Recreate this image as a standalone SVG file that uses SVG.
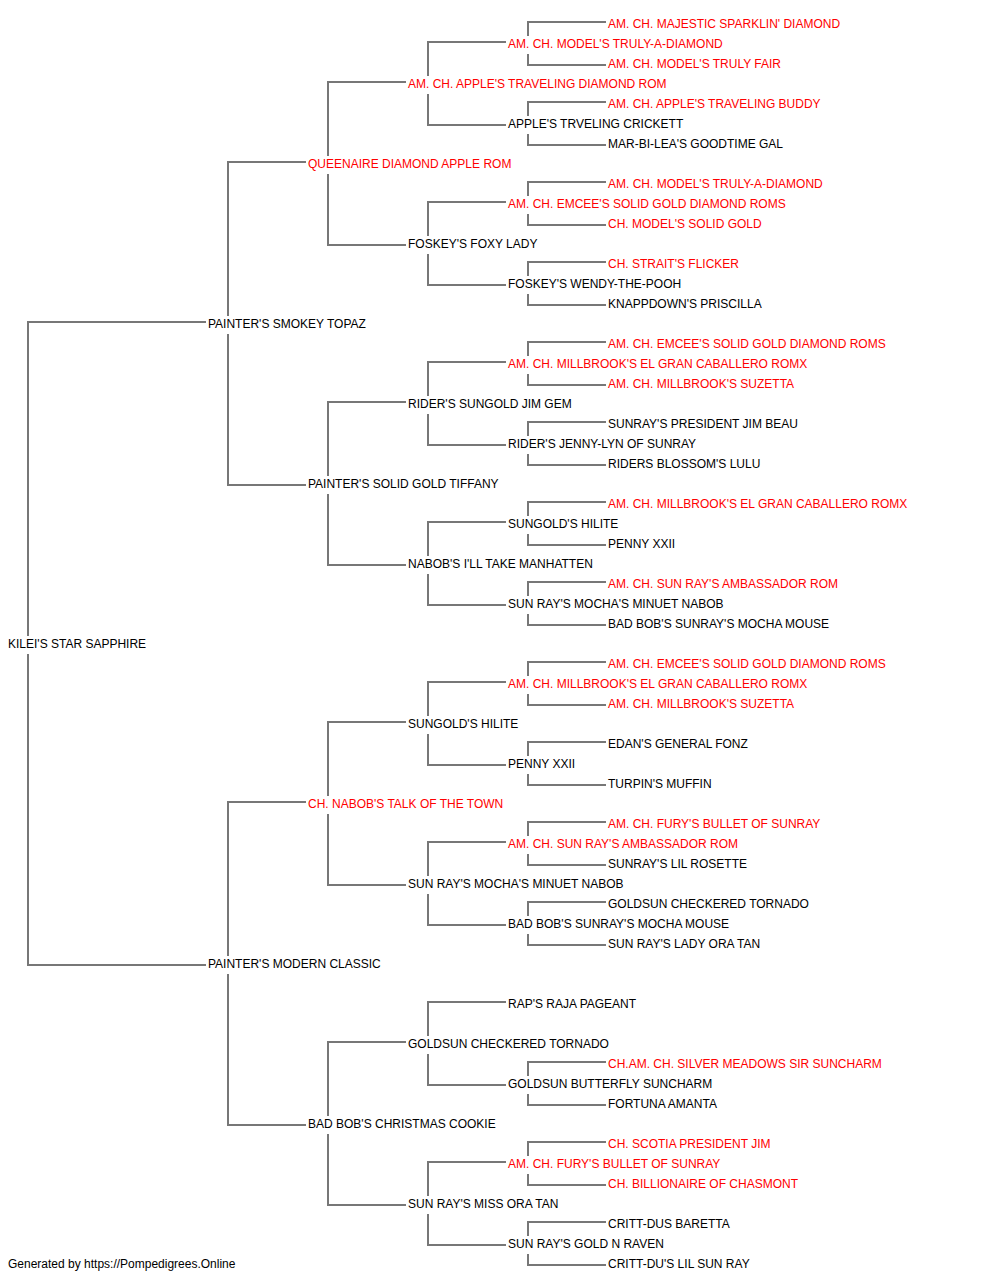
<svg xmlns="http://www.w3.org/2000/svg" width="1000" height="1280" viewBox="0 0 1000 1280">
<style>
text{font-family:"Liberation Sans",Arial,sans-serif;font-size:12px;fill:#000}
text.ch{fill:#ff0000}
.c path{fill:none;stroke:#777;stroke-width:2}
</style>
<rect x="0" y="0" width="1000" height="1280" fill="#fff"/>
<g class="c" id="connectors">
<path d="M206,322H28V636M28,654V965H206"/>
<path d="M306,162H228V316M228,334V485H306"/>
<path d="M306,802H228V956M228,974V1125H306"/>
<path d="M406,82H328V156M328,174V245H406"/>
<path d="M406,402H328V476M328,494V565H406"/>
<path d="M406,722H328V796M328,814V885H406"/>
<path d="M406,1042H328V1116M328,1134V1205H406"/>
<path d="M506,42H428V76M428,94V125H506"/>
<path d="M506,202H428V236M428,254V285H506"/>
<path d="M506,362H428V396M428,414V445H506"/>
<path d="M506,522H428V556M428,574V605H506"/>
<path d="M506,682H428V716M428,734V765H506"/>
<path d="M506,842H428V876M428,894V925H506"/>
<path d="M506,1002H428V1036M428,1054V1085H506"/>
<path d="M506,1162H428V1196M428,1214V1245H506"/>
<path d="M606,22H528V36M528,54V65H606"/>
<path d="M606,102H528V116M528,134V145H606"/>
<path d="M606,182H528V196M528,214V225H606"/>
<path d="M606,262H528V276M528,294V305H606"/>
<path d="M606,342H528V356M528,374V385H606"/>
<path d="M606,422H528V436M528,454V465H606"/>
<path d="M606,502H528V516M528,534V545H606"/>
<path d="M606,582H528V596M528,614V625H606"/>
<path d="M606,662H528V676M528,694V705H606"/>
<path d="M606,742H528V756M528,774V785H606"/>
<path d="M606,822H528V836M528,854V865H606"/>
<path d="M606,902H528V916M528,934V945H606"/>
<path d="M606,1062H528V1076M528,1094V1105H606"/>
<path d="M606,1142H528V1156M528,1174V1185H606"/>
<path d="M606,1222H528V1236M528,1254V1265H606"/>
</g>
<g id="n-gen0"><text x="8" y="648">KILEI'S STAR SAPPHIRE</text></g>
<g id="n-gen1-s"><text x="208" y="328">PAINTER'S SMOKEY TOPAZ</text></g>
<g id="n-gen1-d"><text x="208" y="968">PAINTER'S MODERN CLASSIC</text></g>
<g id="n-r7"><text class="ch" x="308" y="168">QUEENAIRE DIAMOND APPLE ROM</text></g>
<g id="n-r23"><text x="308" y="488">PAINTER'S SOLID GOLD TIFFANY</text></g>
<g id="n-r39"><text class="ch" x="308" y="808">CH. NABOB'S TALK OF THE TOWN</text></g>
<g id="n-r55"><text x="308" y="1128">BAD BOB'S CHRISTMAS COOKIE</text></g>
<g id="n-r3"><text class="ch" x="408" y="88">AM. CH. APPLE'S TRAVELING DIAMOND ROM</text></g>
<g id="n-r11"><text x="408" y="248">FOSKEY'S FOXY LADY</text></g>
<g id="n-r19"><text x="408" y="408">RIDER'S SUNGOLD JIM GEM</text></g>
<g id="n-r27"><text x="408" y="568">NABOB'S I'LL TAKE MANHATTEN</text></g>
<g id="n-r35"><text x="408" y="728">SUNGOLD'S HILITE</text></g>
<g id="n-r43"><text x="408" y="888">SUN RAY'S MOCHA'S MINUET NABOB</text></g>
<g id="n-r51"><text x="408" y="1048">GOLDSUN CHECKERED TORNADO</text></g>
<g id="n-r59"><text x="408" y="1208">SUN RAY'S MISS ORA TAN</text></g>
<g id="n-r1"><text class="ch" x="508" y="48">AM. CH. MODEL'S TRULY-A-DIAMOND</text></g>
<g id="n-r5"><text x="508" y="128">APPLE'S TRVELING CRICKETT</text></g>
<g id="n-r9"><text class="ch" x="508" y="208">AM. CH. EMCEE'S SOLID GOLD DIAMOND ROMS</text></g>
<g id="n-r13"><text x="508" y="288">FOSKEY'S WENDY-THE-POOH</text></g>
<g id="n-r17"><text class="ch" x="508" y="368">AM. CH. MILLBROOK'S EL GRAN CABALLERO ROMX</text></g>
<g id="n-r21"><text x="508" y="448">RIDER'S JENNY-LYN OF SUNRAY</text></g>
<g id="n-r25"><text x="508" y="528">SUNGOLD'S HILITE</text></g>
<g id="n-r29"><text x="508" y="608">SUN RAY'S MOCHA'S MINUET NABOB</text></g>
<g id="n-r33"><text class="ch" x="508" y="688">AM. CH. MILLBROOK'S EL GRAN CABALLERO ROMX</text></g>
<g id="n-r37"><text x="508" y="768">PENNY XXII</text></g>
<g id="n-r41"><text class="ch" x="508" y="848">AM. CH. SUN RAY'S AMBASSADOR ROM</text></g>
<g id="n-r45"><text x="508" y="928">BAD BOB'S SUNRAY'S MOCHA MOUSE</text></g>
<g id="n-r49"><text x="508" y="1008">RAP'S RAJA PAGEANT</text></g>
<g id="n-r53"><text x="508" y="1088">GOLDSUN BUTTERFLY SUNCHARM</text></g>
<g id="n-r57"><text class="ch" x="508" y="1168">AM. CH. FURY'S BULLET OF SUNRAY</text></g>
<g id="n-r61"><text x="508" y="1248">SUN RAY'S GOLD N RAVEN</text></g>
<g id="n-r0"><text class="ch" x="608" y="28">AM. CH. MAJESTIC SPARKLIN' DIAMOND</text></g>
<g id="n-r2"><text class="ch" x="608" y="68">AM. CH. MODEL'S TRULY FAIR</text></g>
<g id="n-r4"><text class="ch" x="608" y="108">AM. CH. APPLE'S TRAVELING BUDDY</text></g>
<g id="n-r6"><text x="608" y="148">MAR-BI-LEA'S GOODTIME GAL</text></g>
<g id="n-r8"><text class="ch" x="608" y="188">AM. CH. MODEL'S TRULY-A-DIAMOND</text></g>
<g id="n-r10"><text class="ch" x="608" y="228">CH. MODEL'S SOLID GOLD</text></g>
<g id="n-r12"><text class="ch" x="608" y="268">CH. STRAIT'S FLICKER</text></g>
<g id="n-r14"><text x="608" y="308">KNAPPDOWN'S PRISCILLA</text></g>
<g id="n-r16"><text class="ch" x="608" y="348">AM. CH. EMCEE'S SOLID GOLD DIAMOND ROMS</text></g>
<g id="n-r18"><text class="ch" x="608" y="388">AM. CH. MILLBROOK'S SUZETTA</text></g>
<g id="n-r20"><text x="608" y="428">SUNRAY'S PRESIDENT JIM BEAU</text></g>
<g id="n-r22"><text x="608" y="468">RIDERS BLOSSOM'S LULU</text></g>
<g id="n-r24"><text class="ch" x="608" y="508">AM. CH. MILLBROOK'S EL GRAN CABALLERO ROMX</text></g>
<g id="n-r26"><text x="608" y="548">PENNY XXII</text></g>
<g id="n-r28"><text class="ch" x="608" y="588">AM. CH. SUN RAY'S AMBASSADOR ROM</text></g>
<g id="n-r30"><text x="608" y="628">BAD BOB'S SUNRAY'S MOCHA MOUSE</text></g>
<g id="n-r32"><text class="ch" x="608" y="668">AM. CH. EMCEE'S SOLID GOLD DIAMOND ROMS</text></g>
<g id="n-r34"><text class="ch" x="608" y="708">AM. CH. MILLBROOK'S SUZETTA</text></g>
<g id="n-r36"><text x="608" y="748">EDAN'S GENERAL FONZ</text></g>
<g id="n-r38"><text x="608" y="788">TURPIN'S MUFFIN</text></g>
<g id="n-r40"><text class="ch" x="608" y="828">AM. CH. FURY'S BULLET OF SUNRAY</text></g>
<g id="n-r42"><text x="608" y="868">SUNRAY'S LIL ROSETTE</text></g>
<g id="n-r44"><text x="608" y="908">GOLDSUN CHECKERED TORNADO</text></g>
<g id="n-r46"><text x="608" y="948">SUN RAY'S LADY ORA TAN</text></g>
<g id="n-r52"><text class="ch" x="608" y="1068">CH.AM. CH. SILVER MEADOWS SIR SUNCHARM</text></g>
<g id="n-r54"><text x="608" y="1108">FORTUNA AMANTA</text></g>
<g id="n-r56"><text class="ch" x="608" y="1148">CH. SCOTIA PRESIDENT JIM</text></g>
<g id="n-r58"><text class="ch" x="608" y="1188">CH. BILLIONAIRE OF CHASMONT</text></g>
<g id="n-r60"><text x="608" y="1228">CRITT-DUS BARETTA</text></g>
<g id="n-r62"><text x="608" y="1268">CRITT-DU'S LIL SUN RAY</text></g>
<g id="footer"><text x="8" y="1268">Generated by https://Pompedigrees.Online</text></g>
</svg>
